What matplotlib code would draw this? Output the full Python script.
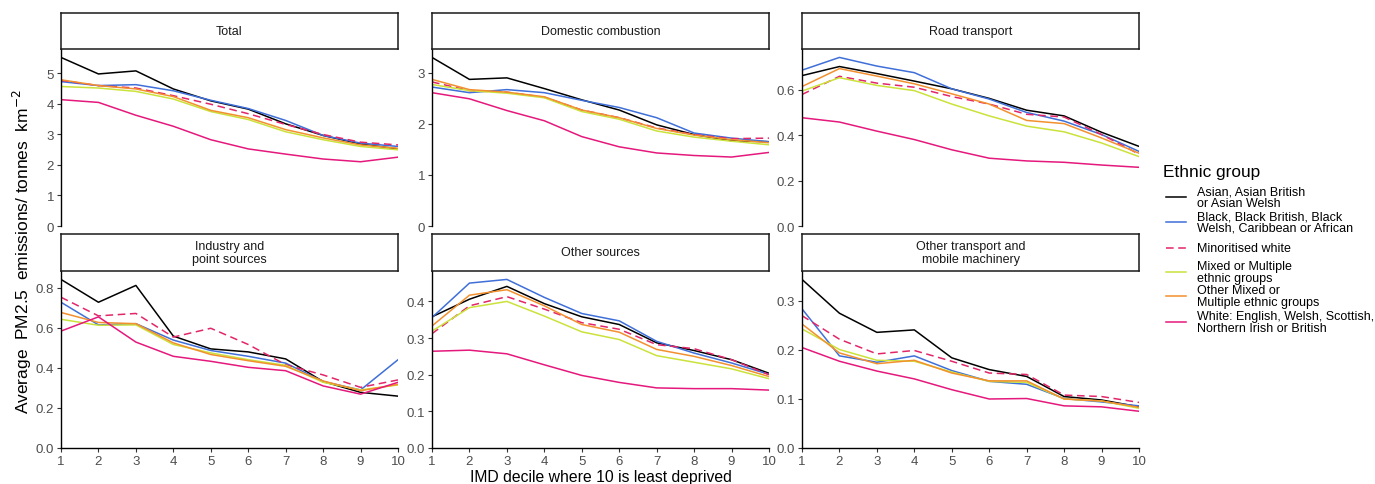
import numpy as np
import matplotlib
matplotlib.use("Agg")
import matplotlib.pyplot as plt
from matplotlib.lines import Line2D

plt.rcParams["font.family"] = ["Liberation Sans", "DejaVu Sans"]

# data: rows = ethnic groups (same order as groups), cols = IMD decile 1..10
deciles = list(range(1, 11))

groups = [
    "Asian, Asian British\nor Asian Welsh",
    "Black, Black British, Black\nWelsh, Caribbean or African",
    "Minoritised white",
    "Mixed or Multiple\nethnic groups",
    "Other Mixed or\nMultiple ethnic groups",
    "White: English, Welsh, Scottish,\nNorthern Irish or British",
]

total = [
    [5.51, 4.97, 5.07, 4.48, 4.09, 3.82, 3.34, 2.96, 2.68, 2.52],
    [4.72, 4.59, 4.62, 4.42, 4.11, 3.84, 3.45, 2.96, 2.71, 2.60],
    [4.76, 4.59, 4.51, 4.26, 3.98, 3.67, 3.32, 2.99, 2.74, 2.65],
    [4.56, 4.51, 4.40, 4.15, 3.74, 3.48, 3.08, 2.82, 2.60, 2.49],
    [4.78, 4.59, 4.48, 4.23, 3.78, 3.54, 3.15, 2.88, 2.65, 2.54],
    [4.13, 4.04, 3.62, 3.26, 2.82, 2.52, 2.35, 2.19, 2.10, 2.25],
]
domestic = [
    [3.30, 2.87, 2.90, 2.69, 2.47, 2.27, 1.98, 1.79, 1.67, 1.65],
    [2.72, 2.61, 2.67, 2.61, 2.46, 2.32, 2.12, 1.82, 1.72, 1.65],
    [2.82, 2.65, 2.62, 2.52, 2.27, 2.12, 1.92, 1.79, 1.71, 1.72],
    [2.77, 2.65, 2.60, 2.51, 2.24, 2.09, 1.86, 1.74, 1.66, 1.59],
    [2.87, 2.67, 2.62, 2.53, 2.27, 2.12, 1.91, 1.78, 1.69, 1.63],
    [2.61, 2.49, 2.26, 2.06, 1.75, 1.55, 1.43, 1.38, 1.35, 1.44],
]
road = [
    [0.661, 0.701, 0.670, 0.637, 0.603, 0.561, 0.509, 0.484, 0.412, 0.350],
    [0.685, 0.741, 0.703, 0.674, 0.603, 0.558, 0.499, 0.461, 0.402, 0.328],
    [0.578, 0.658, 0.628, 0.610, 0.569, 0.536, 0.491, 0.479, 0.402, 0.316],
    [0.593, 0.652, 0.618, 0.595, 0.536, 0.484, 0.439, 0.414, 0.365, 0.305],
    [0.613, 0.692, 0.659, 0.625, 0.581, 0.536, 0.464, 0.450, 0.387, 0.320],
    [0.476, 0.457, 0.417, 0.380, 0.335, 0.298, 0.286, 0.280, 0.268, 0.258],
]
industry = [
    [0.842, 0.728, 0.812, 0.559, 0.495, 0.480, 0.445, 0.332, 0.278, 0.259],
    [0.728, 0.615, 0.621, 0.539, 0.487, 0.458, 0.424, 0.332, 0.290, 0.441],
    [0.753, 0.660, 0.672, 0.554, 0.598, 0.517, 0.416, 0.365, 0.303, 0.340],
    [0.643, 0.613, 0.615, 0.517, 0.475, 0.441, 0.413, 0.328, 0.290, 0.315],
    [0.677, 0.627, 0.621, 0.525, 0.467, 0.436, 0.408, 0.335, 0.286, 0.318],
    [0.584, 0.655, 0.529, 0.458, 0.433, 0.403, 0.386, 0.310, 0.269, 0.328],
]
other_sources = [
    [0.358, 0.406, 0.441, 0.394, 0.358, 0.337, 0.287, 0.266, 0.241, 0.204],
    [0.356, 0.450, 0.460, 0.411, 0.367, 0.347, 0.291, 0.259, 0.232, 0.201],
    [0.312, 0.388, 0.413, 0.379, 0.342, 0.324, 0.282, 0.271, 0.241, 0.200],
    [0.319, 0.383, 0.400, 0.360, 0.317, 0.296, 0.252, 0.234, 0.216, 0.189],
    [0.333, 0.417, 0.432, 0.388, 0.337, 0.316, 0.269, 0.250, 0.225, 0.195],
    [0.264, 0.267, 0.257, 0.227, 0.198, 0.179, 0.164, 0.162, 0.162, 0.158],
]
other_transport = [
    [0.344, 0.275, 0.236, 0.241, 0.184, 0.160, 0.146, 0.105, 0.098, 0.084],
    [0.284, 0.188, 0.175, 0.188, 0.158, 0.136, 0.130, 0.101, 0.094, 0.086],
    [0.270, 0.222, 0.192, 0.199, 0.177, 0.153, 0.150, 0.108, 0.105, 0.093],
    [0.243, 0.201, 0.179, 0.177, 0.155, 0.136, 0.134, 0.100, 0.096, 0.081],
    [0.253, 0.194, 0.172, 0.179, 0.153, 0.137, 0.137, 0.100, 0.096, 0.083],
    [0.205, 0.177, 0.157, 0.141, 0.119, 0.100, 0.101, 0.086, 0.084, 0.075],
]

panels = [
    ("Total", total, [0, 1, 2, 3, 4, 5], "{:.0f}"),
    ("Domestic combustion", domestic, [0, 1, 2, 3], "{:.0f}"),
    ("Road transport", road, [0.0, 0.2, 0.4, 0.6], "{:.1f}"),
    ("Industry and\npoint sources", industry, [0.0, 0.2, 0.4, 0.6, 0.8], "{:.1f}"),
    ("Other sources", other_sources, [0.0, 0.1, 0.2, 0.3, 0.4], "{:.1f}"),
    ("Other transport and\nmobile machinery", other_transport, [0.0, 0.1, 0.2, 0.3], "{:.1f}"),
]

colors = ["#000000", "#3F6FD8", "#E2266A", "#CBE23A", "#F2902F", "#E5187C"]
styles = ["-", "-", (0, (5, 3)), "-", "-", "-"]
lw = 1.1

W, H = 1375, 485
fig = plt.figure(figsize=(W / 100, H / 100), dpi=100)

lefts = [61, 432, 802]
pw = 337
rows_px = [(50, 227, 13.5), (272, 449, 235)]  # axes top, axes bottom, strip top
strip_h = 36.5

tick_col = "#4D4D4D"
for i, (name, data, yt, fmt) in enumerate(panels):
    r, c = divmod(i, 3)
    top, bot, stop = rows_px[r]
    ax = fig.add_axes([lefts[c] / W, 1 - bot / H, pw / W, (bot - top) / H])
    for g in range(len(groups)):
        ax.plot(deciles, data[g], color=colors[g], linestyle=styles[g], lw=lw)
    ymax = max(max(row) for row in data) * 1.05
    ax.set_xlim(1, 10)
    ax.set_ylim(0, ymax)
    ax.set_yticks(yt)
    ax.set_yticklabels([fmt.format(v) for v in yt])
    ax.spines["top"].set_visible(False)
    ax.spines["right"].set_visible(False)
    ax.spines["left"].set_linewidth(1.0)
    ax.spines["bottom"].set_linewidth(1.0)
    ax.tick_params(axis="both", labelsize=9.5, labelcolor=tick_col, color="#333333",
                   length=3, width=0.8, pad=2)
    if r == 0:
        ax.spines["bottom"].set_visible(False)
        ax.set_xticks([])
    else:
        ax.set_xticks(deciles)

    # facet strip
    sax = fig.add_axes([lefts[c] / W, 1 - (stop + strip_h) / H, pw / W, strip_h / H])
    sax.set_xticks([])
    sax.set_yticks([])
    for s in sax.spines.values():
        s.set_linewidth(1.1)
        s.set_color("#1A1A1A")
    sax.text(0.5, 0.5, name, ha="center", va="center", fontsize=9,
             color="#1A1A1A", linespacing=1.1, transform=sax.transAxes)

fig.text((432 + pw / 2) / W, 1 - 478 / H, "IMD decile where 10 is least deprived",
         ha="center", va="center", fontsize=11.3)
fig.text(22 / W, 1 - 252 / H, "Average  PM2.5  emissions/ tonnes  km$^{-2}$",
         rotation=90, ha="center", va="center", fontsize=12.5)

# legend
fig.text(1163 / W, 1 - 173 / H, "Ethnic group", ha="left", va="center", fontsize=12.4)
ys = [198, 223, 249, 273, 297, 323]
for g in range(len(groups)):
    y = 1 - ys[g] / H
    fig.add_artist(Line2D([1166 / W, 1186 / W], [y, y], color=colors[g],
                          linestyle=styles[g], lw=lw, transform=fig.transFigure))
    fig.text(1197 / W, y, groups[g], ha="left", va="center", fontsize=9,
             linespacing=0.95)

fig.savefig("out.png", dpi=100)
